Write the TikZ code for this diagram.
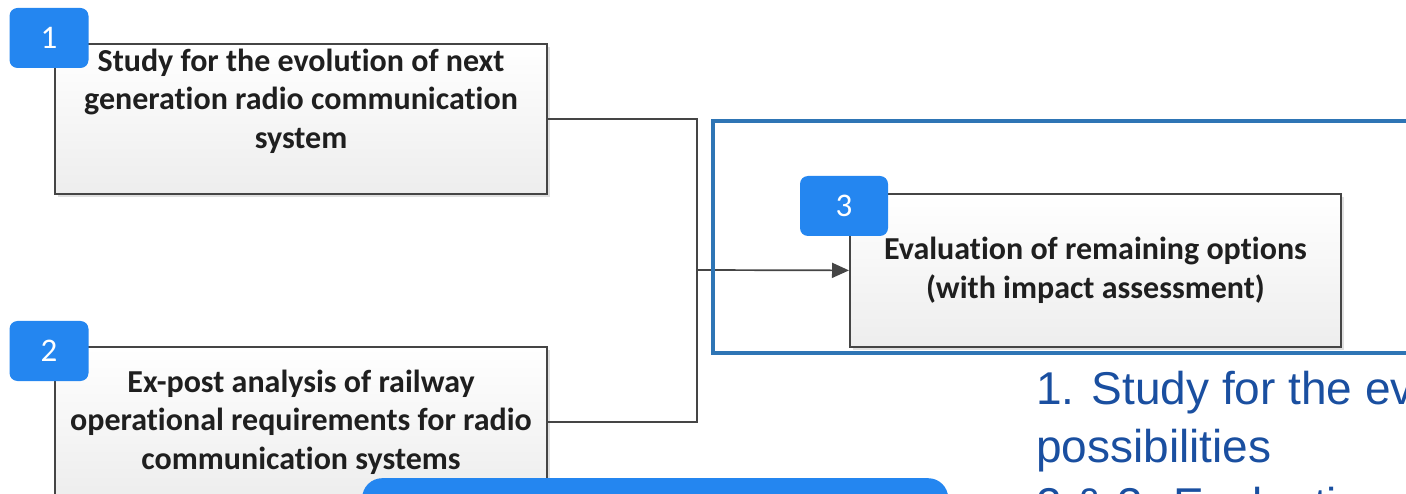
\documentclass[tikz,border=0pt]{standalone}
\usepackage{fontspec}
\setmainfont{Carlito}[RawFeature=-liga]
\newfontfamily\notefont{Liberation Sans}
\usetikzlibrary{arrows.meta,shadows}

\definecolor{badgeblue}{HTML}{2486F0}
\definecolor{frameblue}{HTML}{2E75B5}
\definecolor{noteblue}{HTML}{1A4FA0}
\definecolor{linegray}{HTML}{454545}

\begin{document}
\begin{tikzpicture}[x=1pt, y=-1pt,
		stagebox/.style={draw=linegray, line width=1.8pt, top color=white, bottom color=black!7,
			drop shadow={shadow xshift=3pt, shadow yshift=-3pt, fill=black!12, opacity=1},
			minimum width=492pt, minimum height=150pt, inner sep=0pt, anchor=north west},
		stagetext/.style={font=\fontsize{32}{38.5}\selectfont\bfseries, text=black!88, align=center},
		badge/.style={fill=badgeblue, rounded corners=8pt, minimum width=79pt, minimum height=60pt,
			inner sep=0pt, text=white, font=\fontsize{33}{38}\selectfont},
		link/.style={draw=linegray, line width=1.7pt},
		note/.style={anchor=base west, inner sep=0pt, text=noteblue, font=\notefont\fontsize{46}{56}\selectfont}]
		\useasboundingbox (0,0) rectangle (1406,494);
		\clip (0,0) rectangle (1406,494);

		% the three stages
		\node[stagebox] (study) at (54,43) {};
		\node[stagetext] (studytxt) at (301,101) {Study for the evolution of next\\generation radio communication\\system};
		\node[stagebox] (ops) at (54,346) {};
		\node[stagetext] (opstxt) at (301,422) {Ex-post analysis of railway\\operational requirements for radio\\communication systems};
		\node[stagebox, minimum width=491pt, minimum height=153pt] (eval) at (849,193) {};
		\node[stagetext] (evaltxt) at (eval.center) {Evaluation of remaining options\\(with impact assessment)};

		% connectors
		\coordinate (join) at (697,270);
		\draw[link] (study.east) -| (join);
		\draw[link] (ops.east) -| (join);
		\draw[link, -{Triangle[length=17pt, width=15pt]}] (join) -- (eval.west);

		% frame round stage 3
		\draw[frameblue, line width=4.5pt] (1420,121) -- (713,121) -- (713,353) -- (1420,353);

		% numbered badges
		\node[badge] (b1) at (49,38) {1};
		\node[badge] (b2) at (49,351) {2};
		\node[badge, minimum width=88pt] (b3) at (844,206) {3};

		\node[fill=badgeblue, rounded corners=20pt, minimum width=586pt, minimum height=80pt,
			anchor=north west, inner sep=0pt] (tab) at (362,478) {};

		% notes on the right
		\node[note] (n1) at (1036,404) {1. Study for the evolution};
		\node[note] (n2) at (1036,462) {possibilities};
		\node[note] (n3) at (1036,520) {2 \& 3: Evaluation};
	\end{tikzpicture}
\end{document}
